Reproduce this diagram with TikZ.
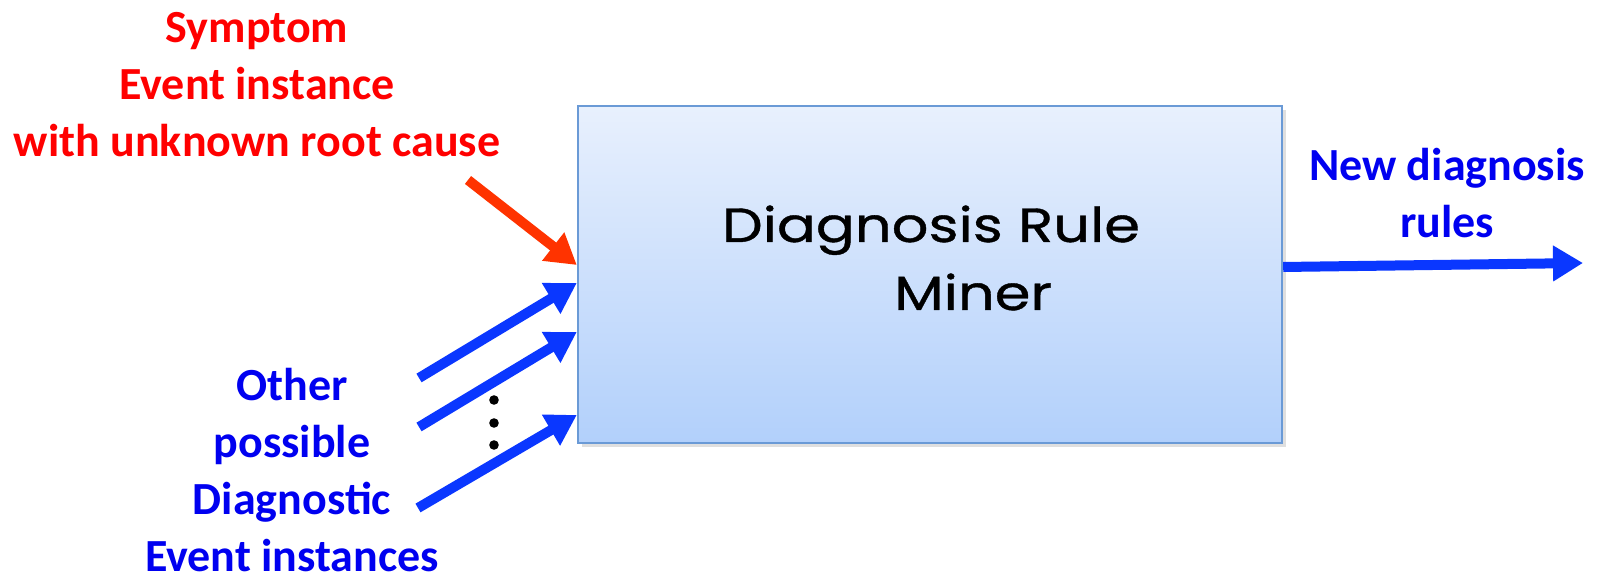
\documentclass[tikz,border=0pt]{standalone}
\usepackage{fontspec}
\setmainfont{Carlito}
\newfontfamily\boxfont[FakeStretch=1.2,FakeBold=0.8]{Poppins}
\usetikzlibrary{arrows.meta,shadows,calc}
\definecolor{lblred}{RGB}{255,0,0}
\definecolor{arrred}{RGB}{255,51,0}
\definecolor{lblblue}{RGB}{0,0,240}
\definecolor{arrblue}{RGB}{10,55,255}
\definecolor{boxtop}{RGB}{232,240,253}
\definecolor{boxbot}{RGB}{178,208,251}
\definecolor{boxline}{RGB}{106,154,214}
\tikzset{
  lbl/.style={font=\fontsize{23}{28.5}\selectfont\bfseries, align=center, inner sep=0pt, anchor=base},
  boxtxt/.style={font=\boxfont\fontsize{24}{34}\selectfont, anchor=base, inner sep=0pt},
  fat/.style={line width=5pt, -{Triangle[length=15pt,width=17pt]}},
}
\begin{document}
\begin{tikzpicture}[x=0.5pt,y=-0.5pt]
\useasboundingbox (0,0) rectangle (1602,581);
% box
\node[draw=boxline, line width=1.2pt, top color=boxtop, bottom color=boxbot,
      minimum width=352pt, minimum height=168.5pt, inner sep=0pt,
      drop shadow={opacity=0.25, shadow xshift=2pt, shadow yshift=-2pt}]
      (box) at (930,274.5) {};
\node[boxtxt] (t1) at (931,242) {Diagnosis Rule};
\node[boxtxt] (t2) at (973,310) {Miner};
% labels (base = baseline of the last line)
\node[lbl, text=lblred] (sym) at (257,157) {Symptom\\Event instance\\with unknown root cause};
\node[lbl, text=lblblue] (oth) at (292,572) {Other\\possible\\Diagnostic\\Event instances};
\node[lbl, text=lblblue] (new) at (1447,238) {New diagnosis\\rules};
% arrows
\coordinate (r0) at (468,180);
\coordinate (b1) at (419,378);
\coordinate (b2) at (419,427);
\coordinate (b3) at (418,508);
\coordinate (o1) at (1583,263);
\draw[fat, arrred] (r0) -- (box.west |- 0,265);
\draw[fat, arrblue] (b1) -- (box.west |- 0,283);
\draw[fat, arrblue] (b2) -- (box.west |- 0,332);
\draw[fat, arrblue] (b3) -- (box.west |- 0,415);
\draw[fat, arrblue] (box.east |- 0,267) -- (o1);
% dots
\fill (494,400) circle (2.4pt) (494,423) circle (2.4pt) (494,445) circle (2.4pt);
\end{tikzpicture}
\end{document}
